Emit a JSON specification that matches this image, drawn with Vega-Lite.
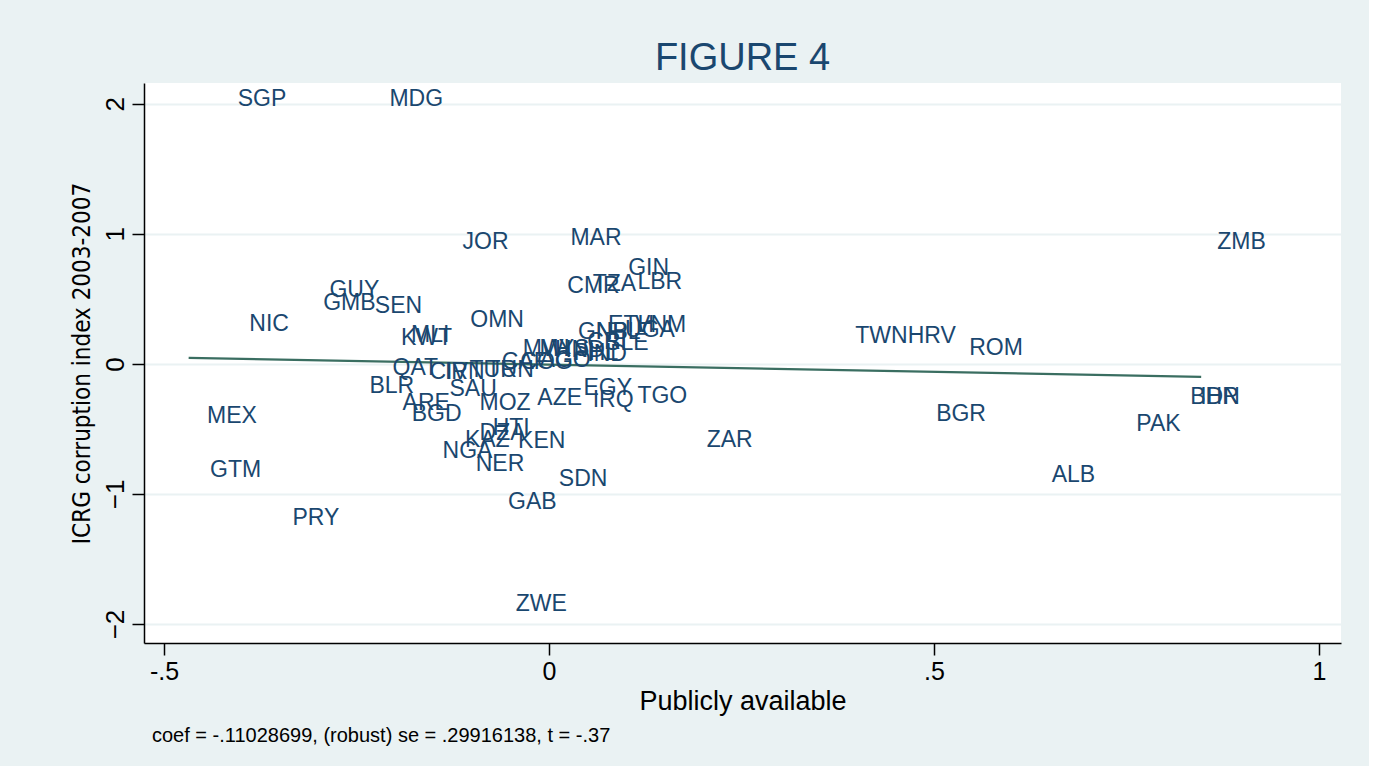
{
  "$schema": "https://vega.github.io/schema/vega-lite/v6.json",
  "background": "#EAF2F3",
  "padding": {"left": 70, "top": 40, "right": 28, "bottom": 20},
  "title": {
    "text": "coef = -.11028699, (robust) se = .29916138, t = -.37",
    "orient": "bottom",
    "anchor": "start",
    "frame": "group",
    "font": "Liberation Sans",
    "fontSize": 20,
    "fontWeight": "normal",
    "color": "#000000",
    "dx": 8,
    "offset": 12
  },
  "datasets": {
    "countries": [
      {"code": "SGP", "x": -0.425, "y": 2.038},
      {"code": "MDG", "x": -0.228, "y": 2.038},
      {"code": "JOR", "x": -0.133, "y": 0.938},
      {"code": "MAR", "x": 0.007, "y": 0.969},
      {"code": "ZMB", "x": 0.847, "y": 0.938},
      {"code": "GIN", "x": 0.082, "y": 0.738},
      {"code": "GUY", "x": -0.306, "y": 0.569},
      {"code": "LBR", "x": 0.094, "y": 0.631},
      {"code": "TZA", "x": 0.036, "y": 0.615},
      {"code": "CMR", "x": 0.003, "y": 0.600},
      {"code": "GMB", "x": -0.314, "y": 0.469},
      {"code": "SEN", "x": -0.247, "y": 0.446},
      {"code": "NIC", "x": -0.410, "y": 0.308},
      {"code": "OMN", "x": -0.123, "y": 0.338},
      {"code": "KWT", "x": -0.213, "y": 0.200},
      {"code": "MLI", "x": -0.200, "y": 0.223},
      {"code": "GNB", "x": 0.017, "y": 0.246},
      {"code": "ETH", "x": 0.056, "y": 0.300},
      {"code": "VNM", "x": 0.091, "y": 0.300},
      {"code": "UGA", "x": 0.078, "y": 0.262},
      {"code": "NPL", "x": 0.040, "y": 0.246},
      {"code": "SLE", "x": 0.052, "y": 0.162},
      {"code": "CRI", "x": 0.029, "y": 0.169},
      {"code": "MWI", "x": -0.055, "y": 0.115},
      {"code": "MYS", "x": -0.033, "y": 0.115},
      {"code": "HND", "x": -0.013, "y": 0.108},
      {"code": "PHL", "x": 0.011, "y": 0.085},
      {"code": "IND", "x": 0.029, "y": 0.077},
      {"code": "CAF", "x": -0.082, "y": 0.015},
      {"code": "COG", "x": -0.058, "y": 0.015},
      {"code": "AGO", "x": -0.033, "y": 0.031},
      {"code": "QAT", "x": -0.224, "y": -0.031},
      {"code": "CIV", "x": -0.176, "y": -0.062},
      {"code": "IRN", "x": -0.156, "y": -0.062},
      {"code": "TUR", "x": -0.124, "y": -0.046},
      {"code": "TUN", "x": -0.102, "y": -0.046},
      {"code": "BLR", "x": -0.254, "y": -0.169},
      {"code": "SAU", "x": -0.150, "y": -0.192},
      {"code": "ARE", "x": -0.211, "y": -0.300},
      {"code": "BGD", "x": -0.199, "y": -0.385},
      {"code": "MOZ", "x": -0.111, "y": -0.300},
      {"code": "AZE", "x": -0.036, "y": -0.262},
      {"code": "EGY", "x": 0.024, "y": -0.185},
      {"code": "IRQ", "x": 0.036, "y": -0.277},
      {"code": "TGO", "x": 0.094, "y": -0.246},
      {"code": "MEX", "x": -0.465, "y": -0.400},
      {"code": "GTM", "x": -0.461, "y": -0.815},
      {"code": "PRY", "x": -0.354, "y": -1.185},
      {"code": "TWN", "x": 0.377, "y": 0.215},
      {"code": "HRV", "x": 0.445, "y": 0.215},
      {"code": "ROM", "x": 0.525, "y": 0.123},
      {"code": "BGR", "x": 0.482, "y": -0.385},
      {"code": "ZAR", "x": 0.184, "y": -0.585},
      {"code": "IDN", "x": 0.825, "y": -0.254},
      {"code": "BHR", "x": 0.812, "y": -0.254},
      {"code": "PAK", "x": 0.742, "y": -0.462},
      {"code": "ALB", "x": 0.632, "y": -0.854},
      {"code": "HTI", "x": -0.094, "y": -0.492},
      {"code": "DZA", "x": -0.111, "y": -0.531},
      {"code": "KAZ", "x": -0.130, "y": -0.585},
      {"code": "KEN", "x": -0.061, "y": -0.592},
      {"code": "NGA", "x": -0.159, "y": -0.669},
      {"code": "NER", "x": -0.116, "y": -0.769},
      {"code": "SDN", "x": -0.008, "y": -0.885},
      {"code": "GAB", "x": -0.074, "y": -1.062},
      {"code": "ZWE", "x": -0.064, "y": -1.846}
    ],
    "fit": [
      {"x": -0.468, "y": 0.046},
      {"x": 0.847, "y": -0.099}
    ]
  },
  "vconcat": [
    {
      "width": 1197,
      "height": 560,
      "title": {
        "text": "FIGURE 4",
        "font": "Liberation Sans",
        "fontSize": 38,
        "fontWeight": "normal",
        "color": "#1a476f",
        "anchor": "middle",
        "offset": 5
      },
      "encoding": {
        "x": {
          "field": "x",
          "type": "quantitative",
          "scale": {"domain": [-0.526, 1.0286], "nice": false, "zero": false},
          "axis": {
            "title": "Publicly available",
            "values": [-0.5, 0, 0.5, 1],
            "labelExpr": "datum.value == 0 ? '0' : datum.value == 1 ? '1' : datum.value == -0.5 ? '-.5' : '.5'",
            "grid": false,
            "domainColor": "#000000",
            "domainWidth": 1.5,
            "tickColor": "#000000",
            "tickSize": 12,
            "tickWidth": 1.5,
            "labelFont": "Liberation Sans",
            "labelFontSize": 25,
            "labelColor": "#000000",
            "labelPadding": 4,
            "titleFont": "Liberation Sans",
            "titleFontSize": 27,
            "titleFontWeight": "normal",
            "titleColor": "#000000",
            "titlePadding": 4
          }
        },
        "y": {
          "field": "y",
          "type": "quantitative",
          "scale": {"domain": [-2.146, 2.16], "nice": false, "zero": false},
          "axis": {
            "title": "ICRG corruption index 2003-2007",
            "values": [-2, -1, 0, 1, 2],
            "grid": true,
            "gridColor": "#EAF2F3",
            "gridWidth": 2,
            "domainColor": "#000000",
            "domainWidth": 1.5,
            "tickColor": "#000000",
            "tickSize": 12,
            "tickWidth": 1.5,
            "labelAngle": 270,
            "labelAlign": "center",
            "labelBaseline": "bottom",
            "labelFont": "Liberation Sans",
            "labelFontSize": 26,
            "labelColor": "#000000",
            "labelPadding": 4,
            "titleFont": "DejaVu Sans Condensed",
            "titleFontSize": 24,
            "titleFontWeight": "normal",
            "titleColor": "#000000",
            "titlePadding": 8
          }
        }
      },
      "layer": [
        {
          "data": {"name": "fit"},
          "mark": {"type": "line", "color": "#3a6e61", "strokeWidth": 2.2}
        },
        {
          "data": {"name": "countries"},
          "mark": {
            "type": "text",
            "align": "left",
            "baseline": "middle",
            "dx": 16,
            "font": "Liberation Sans",
            "fontSize": 23,
            "color": "#1a476f"
          },
          "encoding": {"text": {"field": "code", "type": "nominal"}}
        }
      ]
    }
  ],
  "config": {
    "view": {"fill": "white", "stroke": null},
    "concat": {"spacing": 0}
  }
}
